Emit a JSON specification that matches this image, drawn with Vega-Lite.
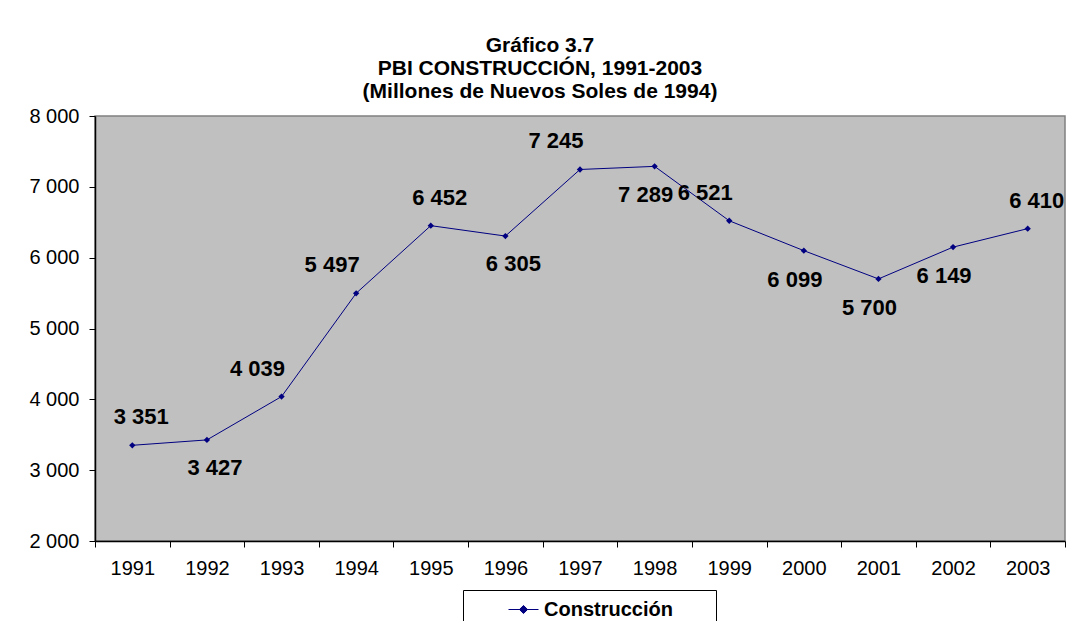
{
  "$schema": "https://vega.github.io/schema/vega-lite/v6.json",
  "autosize": {"type": "none"},
  "width": 970,
  "height": 425,
  "padding": {"left": 95, "top": 116, "right": 4, "bottom": 80},
  "background": "white",
  "config": {
    "font": "Liberation Sans",
    "view": {"fill": "#C0C0C0", "stroke": "#808080", "strokeWidth": 1.5},
    "axis": {"domainColor": "black", "tickColor": "black", "labelColor": "black", "labelFont": "Liberation Sans", "labelFontSize": 20, "grid": false, "tickSize": 6, "domainWidth": 1.5}
  },
  "title": {
    "text": ["Gráfico 3.7", "PBI CONSTRUCCIÓN, 1991-2003", "(Millones de Nuevos Soles de 1994)"],
    "font": "Liberation Sans",
    "fontSize": 21,
    "fontWeight": "bold",
    "lineHeight": 23,
    "color": "black",
    "anchor": "middle",
    "dx": -40,
    "offset": 4
  },
  "data": {
    "values": [
      {"year": "1991", "value": 3351, "series": "Construcción"},
      {"year": "1992", "value": 3427, "series": "Construcción"},
      {"year": "1993", "value": 4039, "series": "Construcción"},
      {"year": "1994", "value": 5497, "series": "Construcción"},
      {"year": "1995", "value": 6452, "series": "Construcción"},
      {"year": "1996", "value": 6305, "series": "Construcción"},
      {"year": "1997", "value": 7245, "series": "Construcción"},
      {"year": "1998", "value": 7289, "series": "Construcción"},
      {"year": "1999", "value": 6521, "series": "Construcción"},
      {"year": "2000", "value": 6099, "series": "Construcción"},
      {"year": "2001", "value": 5700, "series": "Construcción"},
      {"year": "2002", "value": 6149, "series": "Construcción"},
      {"year": "2003", "value": 6410, "series": "Construcción"}
    ]
  },
  "transform": [
    {"calculate": "replace(format(datum.value, ','), ',', ' ')", "as": "label"}
  ],
  "encoding": {
    "x": {
      "field": "year", "type": "ordinal", "bandPosition": 0.5,
      "scale": {"type": "band", "paddingInner": 0, "paddingOuter": 0},
      "axis": {"title": null, "labelAngle": 0, "tickBand": "extent", "labelPadding": 11}
    },
    "y": {
      "field": "value", "type": "quantitative",
      "scale": {"domain": [2000, 8000], "nice": false, "zero": false},
      "axis": {"title": null, "values": [2000, 3000, 4000, 5000, 6000, 7000, 8000], "labelExpr": "replace(format(datum.value, ','), ',', ' ')", "labelPadding": 10}
    }
  },
  "layer": [
    {
      "mark": {"type": "line", "strokeWidth": 1},
      "encoding": {
        "color": {
          "field": "series", "type": "nominal",
          "scale": {"range": ["#000080"]},
          "legend": {
            "title": "\u00a0",
            "titleOrient": "left",
            "titlePadding": 41,
            "titleFontSize": 20,
            "orient": "none",
            "legendX": 368,
            "legendY": 474,
            "direction": "vertical",
            "strokeColor": "black",
            "fillColor": "white",
            "padding": 4,
            "labelFont": "Liberation Sans",
            "labelFontSize": 20,
            "labelFontWeight": "bold",
            "labelColor": "black",
            "labelOffset": 5,
            "labelLimit": 500,
            "labelExpr": "datum.label + '\u00a0\u00a0\u00a0\u00a0\u00a0\u00a0\u00a0\u200b'",
            "symbolType": "M-1,0H1M0,-0.27L0.27,0L0,0.27L-0.27,0Z",
            "symbolSize": 900,
            "symbolStrokeWidth": 1,
            "encode": {"symbols": {"update": {"fill": {"value": "#000080"}, "stroke": {"value": "#000080"}, "strokeWidth": {"value": 1}}}}
          }
        }
      }
    },
    {
      "mark": {"type": "point", "shape": "diamond", "filled": true, "size": 40, "color": "#000080", "opacity": 1}
    },
    {
      "transform": [{"filter": {"field": "year", "oneOf": ["1991", "1995", "2003"]}}],
      "mark": {"type": "text", "fontSize": 22, "fontWeight": "bold", "color": "black", "dy": -28, "dx": 9, "baseline": "middle"},
      "encoding": {"text": {"field": "label"}}
    },
    {
      "transform": [{"filter": {"field": "year", "oneOf": ["1993", "1994", "1997", "1999"]}}],
      "mark": {"type": "text", "fontSize": 22, "fontWeight": "bold", "color": "black", "dy": -28, "dx": -24, "baseline": "middle"},
      "encoding": {"text": {"field": "label"}}
    },
    {
      "transform": [{"filter": {"field": "year", "oneOf": ["1992", "1996"]}}],
      "mark": {"type": "text", "fontSize": 22, "fontWeight": "bold", "color": "black", "dy": 28, "dx": 8, "baseline": "middle"},
      "encoding": {"text": {"field": "label"}}
    },
    {
      "transform": [{"filter": {"field": "year", "oneOf": ["1998", "2000", "2001", "2002"]}}],
      "mark": {"type": "text", "fontSize": 22, "fontWeight": "bold", "color": "black", "dy": 29, "dx": -9, "baseline": "middle"},
      "encoding": {"text": {"field": "label"}}
    }
  ]
}
